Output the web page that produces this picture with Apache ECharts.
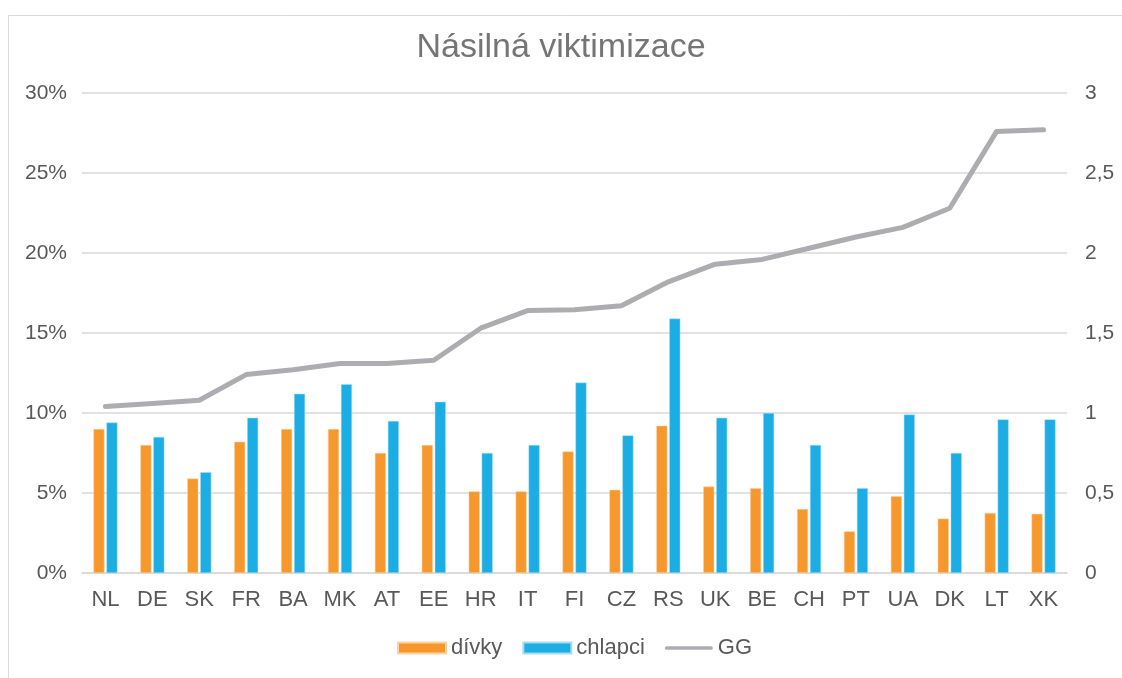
<!DOCTYPE html>
<html lang="cs">
<head>
    <meta charset="utf-8">
    <title>Násilná viktimizace</title>
    <style>
        html,body,#chart{
            height: 100%;
            width: 100%;
            padding: 0;
            margin: 0;
            background: #fff;
        }
    </style>
</head>
<body>
    <div id="chart"></div>
    <script src="https://cdn.jsdelivr.net/npm/echarts@6/dist/echarts.min.js"></script>
    <script>
        // data
        const countries = ['NL','DE','SK','FR','BA','MK','AT','EE','HR','IT','FI','CZ','RS','UK','BE','CH','PT','UA','DK','LT','XK'];
        const divky   = [9.0, 8.0, 5.9, 8.2, 9.0, 9.0, 7.5, 8.0, 5.1, 5.1, 7.6, 5.2, 9.2, 5.4, 5.3, 4.0, 2.6, 4.8, 3.4, 3.75, 3.7];
        const chlapci = [9.4, 8.5, 6.3, 9.7, 11.2, 11.8, 9.5, 10.7, 7.5, 8.0, 11.9, 8.6, 15.9, 9.7, 10.0, 8.0, 5.3, 9.9, 7.5, 9.6, 9.6];
        const gg      = [1.04, 1.06, 1.08, 1.24, 1.27, 1.31, 1.31, 1.33, 1.53, 1.64, 1.645, 1.67, 1.82, 1.93, 1.96, 2.03, 2.10, 2.16, 2.28, 2.76, 2.77];

        const font = 'Liberation Sans, Arial, sans-serif';
        const labelColor = '#595959';
        const lineGrey = '#ADADB1';

        let chart = echarts.init(document.getElementById('chart'));
        chart.setOption({
            animation: false,
            textStyle: { fontFamily: font },
            title: {
                text: 'Násilná viktimizace',
                left: 'center',
                top: 26,
                textStyle: { fontSize: 34, fontWeight: 'normal', color: '#757575', fontFamily: font }
            },
            graphic: [{
                type: 'rect',
                shape: { x: 8.5, y: 15.5, width: 1130, height: 700 },
                style: { fill: 'none', stroke: '#d9d9d9', lineWidth: 1 },
                silent: true
            }],
            legend: {
                bottom: 14,
                left: 392,
                itemGap: 20,
                itemWidth: 48,
                itemHeight: 11,
                textStyle: { fontSize: 22, color: labelColor },
                data: [
                    { name: 'dívky', icon: 'rect' },
                    { name: 'chlapci', icon: 'rect' },
                    { name: 'GG', icon: 'path://M2,4 L50,4 A2,2 0 0 1 50,8 L2,8 A2,2 0 0 1 2,4 Z', itemStyle: { color: lineGrey } }
                ]
            },
            grid: { left: 82, right: 55, top: 93, bottom: 105 },
            xAxis: {
                type: 'category',
                data: countries,
                axisTick: { show: false },
                axisLine: { lineStyle: { color: '#d9d9d9', width: 1.5 } },
                axisLabel: { fontSize: 22, color: labelColor, margin: 16 }
            },
            yAxis: [{
                type: 'value',
                min: 0, max: 30, interval: 5,
                axisLabel: { fontSize: 21, color: labelColor, margin: 15, formatter: '{value}%' },
                splitLine: { lineStyle: { color: '#d9d9d9', width: 1.5 } },
                axisLine: { show: false },
                axisTick: { show: false }
            }, {
                type: 'value',
                min: 0, max: 3, interval: 0.5,
                position: 'right',
                axisLabel: {
                    fontSize: 21, color: labelColor, margin: 18,
                    formatter: v => String(v).replace('.', ',')
                },
                splitLine: { show: false },
                axisLine: { show: false },
                axisTick: { show: false }
            }],
            series: [{
                name: 'dívky',
                type: 'bar',
                data: divky,
                barWidth: 11,
                barGap: '18%',
                itemStyle: { color: '#F7982D', borderColor: '#fbd2a6', borderWidth: 0.5 }
            }, {
                name: 'chlapci',
                type: 'bar',
                data: chlapci,
                barWidth: 11,
                itemStyle: { color: '#1BADE3', borderColor: '#a6dcf2', borderWidth: 0.5 }
            }, {
                name: 'GG',
                type: 'line',
                yAxisIndex: 1,
                data: gg,
                symbol: 'none',
                lineStyle: { color: lineGrey, width: 5, cap: 'round', join: 'round' },
                itemStyle: { color: lineGrey }
            }]
        });
    </script>
</body>
</html>
